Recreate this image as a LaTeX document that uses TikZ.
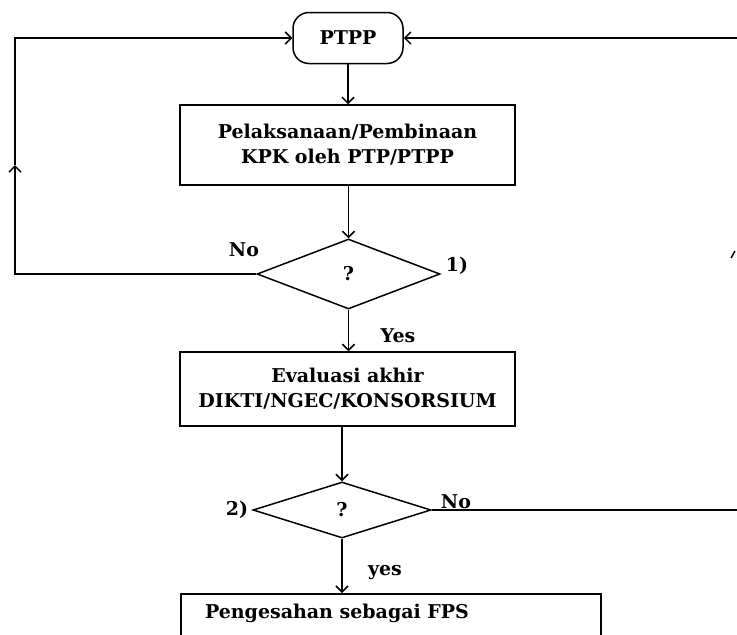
\documentclass[tikz,border=0pt]{standalone}
\usepackage{fontspec}
\setmainfont{DejaVu Serif}
\usetikzlibrary{arrows.meta,shapes.geometric}
\begin{document}
\begin{tikzpicture}[x=1pt,y=-1pt,
  line/.style={line width=1.5pt},
  arr/.style={line,-{Straight Barb[length=6pt,width=12pt]}},
  txt/.style={font=\fontsize{19}{25}\selectfont\bfseries},
  term/.style={draw,line,rounded corners=16pt,minimum width=110pt,minimum height=51pt,inner sep=0pt,txt},
  procbox/.style={draw,line,rectangle,minimum width=335pt,minimum height=80pt,align=center,inner sep=0pt,txt},
  decision/.style={draw,line,diamond,minimum width=183pt,minimum height=70pt,inner sep=0pt,txt}]
\useasboundingbox (0,0) rectangle (737,635);

\node[term] (ptpp) at (348,38) {PTPP};
\node[procbox] (b1) at (347.5,145) {Pelaksanaan/Pembinaan\\KPK oleh PTP/PTPP};
\node[decision] (d1) at (348.5,274) {?};
\node[procbox,minimum height=74pt] (b2) at (347.5,389) {Evaluasi akhir\\DIKTI/NGEC/KONSORSIUM};
\node[decision,minimum width=178pt,minimum height=56pt] (d2) at (342,510) {?};
\node[draw,line,rectangle,minimum width=420pt,minimum height=80pt,anchor=north west] (b3) at (180,593) {};
\node[txt] (t3) at (337,613) {Pengesahan sebagai FPS};

\coordinate (lmid) at (15,165);
\coordinate (rtop) at (737,38);
\coordinate (rmid) at (737,510);

\draw[arr] (ptpp.south) -- (ptpp.south |- b1.north);
\draw[arr] (b1.south -| d1.north) -- (d1.north);
\draw[arr] (d1.south) -- (d1.south |- b2.north);
\draw[arr] (b2.south -| d2.north) -- (d2.north);
\draw[arr] (d2.south) -- (d2.south |- b3.north);
\draw[arr] (d1.west) -| (lmid);
\draw[arr] (lmid) |- (ptpp.west);
\draw[arr] (rtop) -- (ptpp.east);
\draw[line] (d2.east) -- (rmid);
\draw[line] (731,258) -- (735,251);

\node[txt] (no1) at (244,250) {No};
\node[txt] (one) at (457,266) {1)};
\node[txt] (yes1) at (398,336) {Yes};
\node[txt] (two) at (237,510) {2)};
\node[txt] (no2) at (456,502) {No};
\node[txt] (yes2) at (385,573) {yes};
\end{tikzpicture}
\end{document}
